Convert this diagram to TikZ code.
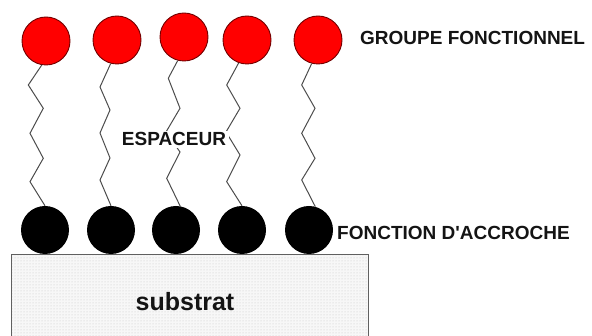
\documentclass[tikz,border=0pt]{standalone}
\usepackage{fontspec}
\setmainfont{Liberation Sans}[Ligatures=TeXOff]
\usetikzlibrary{patterns}
\begin{document}
\begin{tikzpicture}[x=1pt,y=-1pt,
  head/.style={circle,draw=red!45!black,line width=0.9pt,fill=red,minimum size=48pt,inner sep=0pt},
  anchorball/.style={circle,fill=black,minimum size=48pt,inner sep=0pt},
  chain/.style={draw=black!70,line width=1pt,line join=miter},
  lbl/.style={inner sep=0pt,text=black!92,font=\bfseries\fontsize{19}{22}\selectfont},
]
\useasboundingbox (0,0) rectangle (592,336);
\begin{scope}
\clip (0,0) rectangle (592,336);
\path[fill=gray!6] (11,254) rectangle (368,345);
\path[pattern=dots,pattern color=gray!45] (11,254) rectangle (368,345);
\draw[gray!75!black,line width=0.9pt] (11,345) -- (11,254) -- (368,254) -- (368,345);
\end{scope}
\node[inner sep=0pt,text=black!92,font=\bfseries\fontsize{25}{28}\selectfont,anchor=base] (sub) at (185,311) {substrat};

% heads
\node[head] (r1) at (46,41) {};
\node[head] (r2) at (117,40) {};
\node[head] (r3) at (184,37) {};
\node[head] (r4) at (247,40) {};
\node[head] (r5) at (318,40) {};
% anchors
\node[anchorball] (b1) at (45,230) {};
\node[anchorball] (b2) at (111,230) {};
\node[anchorball] (b3) at (176,230) {};
\node[anchorball] (b4) at (242,230) {};
\node[anchorball] (b5) at (309,230) {};

% chains
\draw[chain] (r1.-100) -- (28.3,85) -- (43.3,108.3) -- (30,133.3) -- (43.3,158.3) -- (30,181.7) -- (b1.north);
\draw[chain] (r2.-105) -- (100,87) -- (110,110) -- (100,133) -- (110,158) -- (100,180) -- (b2.north);
\draw[chain] (r3.-105) -- (168.3,78.3) -- (180,108.3) -- (166,132) -- (180,152) -- (166.7,178.3) -- (b3.80);
\draw[chain] (r4.-110) -- (226.7,85) -- (240,108.3) -- (226,132) -- (240,155) -- (226.7,181.7) -- (b4.north);
\draw[chain] (r5.-105) -- (301.7,85) -- (315,108.3) -- (301.7,133.3) -- (315,158.3) -- (301.7,180) -- (b5.75);

% labels
\node[lbl,fill=white,inner xsep=3pt,inner ysep=2pt,anchor=base] (esp) at (174,146) {ESPACEUR};
\node[lbl,anchor=base west] (gf) at (360,45) {GROUPE FONCTIONNEL};
\node[lbl,anchor=base west] (fa) at (337,240) {FONCTION D'ACCROCHE};
\end{tikzpicture}
\end{document}
